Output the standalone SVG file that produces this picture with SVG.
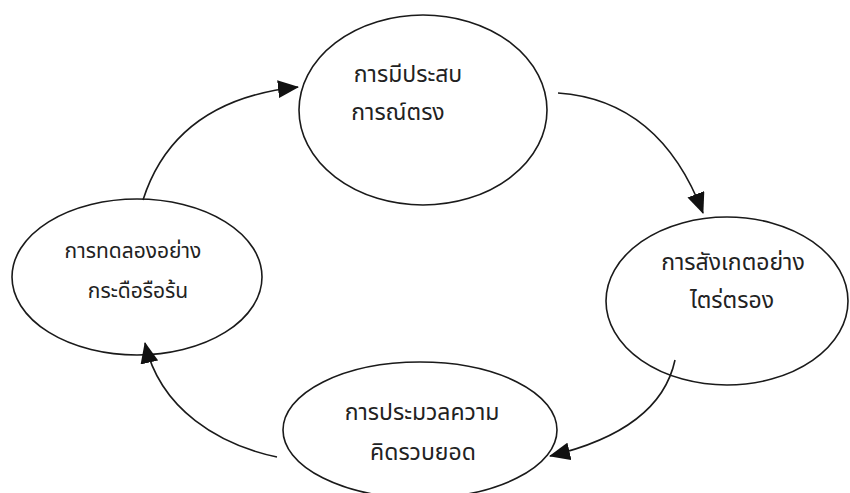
<svg xmlns="http://www.w3.org/2000/svg" width="850" height="493" viewBox="0 0 850 493">
<style>
.node{fill:none;stroke:#1a1a1a;stroke-width:1.6}
.lbl{font-family:"Noto Sans Thai","Noto Sans","Liberation Sans",sans-serif;font-size:23px;fill:#222;text-anchor:middle}
.sm{font-size:21px}
.conn{fill:none;stroke:#1a1a1a;stroke-width:1.6}
</style>
<defs>
<marker id="ah" markerUnits="userSpaceOnUse" markerWidth="21" markerHeight="18" refX="20" refY="9" orient="auto">
<path d="M0,0 L21,9 L0,18 Z" fill="#111"/>
</marker>
</defs>
<rect width="850" height="493" fill="#fff"/>
<g id="n1">
<ellipse class="node" cx="423" cy="110" rx="124" ry="95"/>
<text class="lbl" x="408" y="82">การมีประสบ</text>
<text class="lbl" x="398" y="120">การณ์ตรง</text>
</g>
<g id="n2">
<ellipse class="node" cx="727" cy="301" rx="121" ry="84"/>
<text class="lbl" x="733" y="270">การสังเกตอย่าง</text>
<text class="lbl" x="732" y="308">ไตร่ตรอง</text>
</g>
<g id="n3">
<ellipse class="node" cx="420" cy="430" rx="137" ry="68"/>
<text class="lbl" x="422" y="420">การประมวลความ</text>
<text class="lbl" x="423" y="460">คิดรวบยอด</text>
</g>
<g id="n4">
<ellipse class="node" cx="137" cy="277" rx="125" ry="78"/>
<text class="lbl sm" x="133" y="258">การทดลองอย่าง</text>
<text class="lbl sm" x="138" y="298">กระดือรือร้น</text>
</g>
<g id="connectors">
<path class="conn" d="M143,200 Q175,100 298,87" marker-end="url(#ah)"/>
<path class="conn" d="M558,93 Q660,100 703,213" marker-end="url(#ah)"/>
<path class="conn" d="M675,360 Q660,430 550,456" marker-end="url(#ah)"/>
<path class="conn" d="M277,457 C220,445 160,410 145,343" marker-end="url(#ah)"/>
</g>
</svg>
